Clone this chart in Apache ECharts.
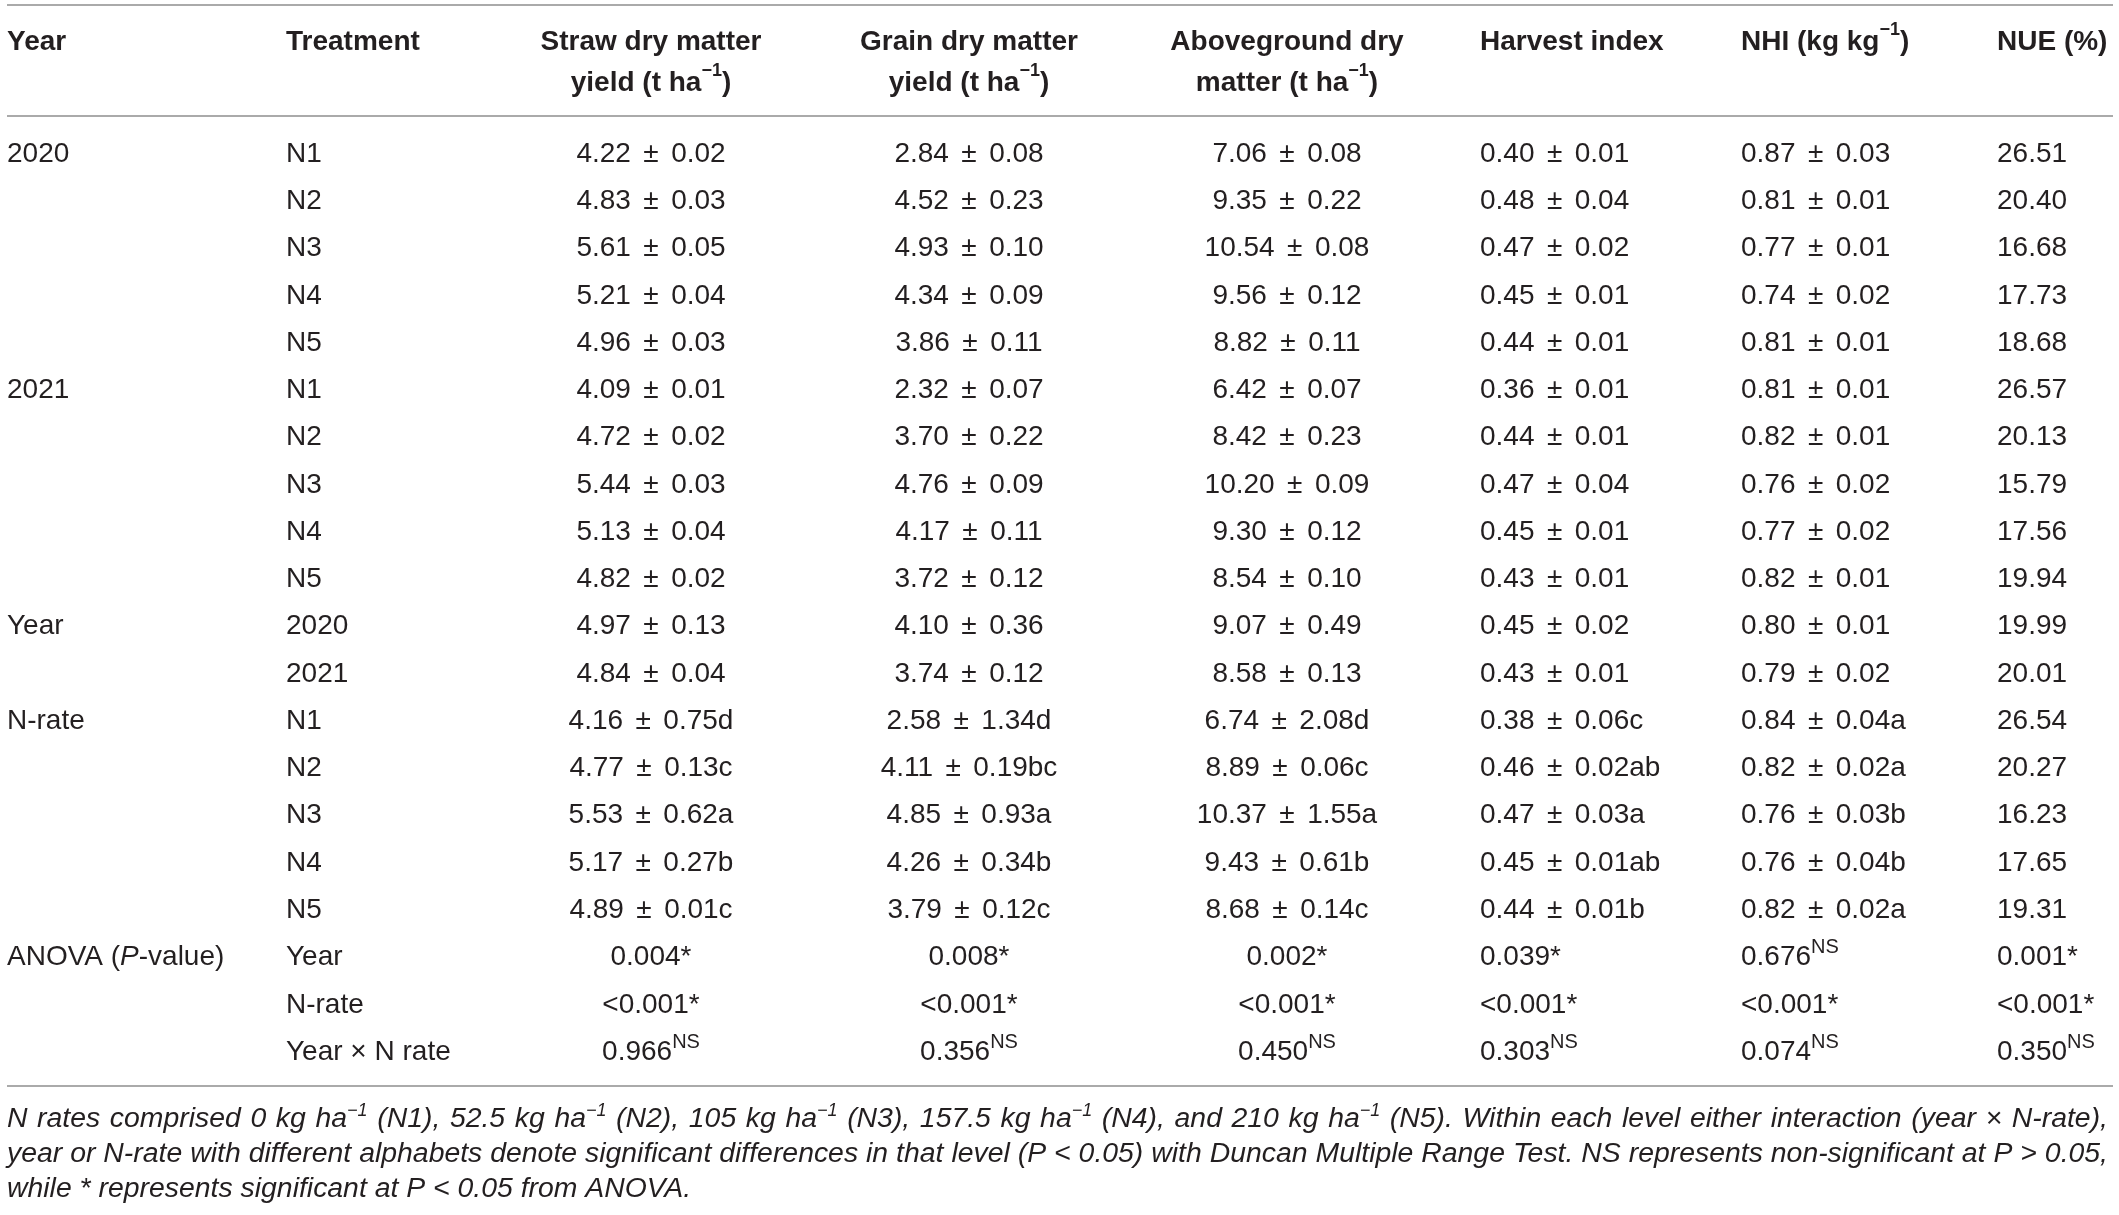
<!DOCTYPE html>
<html>
<head>
<meta charset="utf-8">
<script src="https://cdn.jsdelivr.net/npm/echarts@6/dist/echarts.min.js"></script>
<style>
    html, body { margin: 0; padding: 0; background: #fff; }
    #chart { width: 2119px; height: 1215px; }
</style>
</head>
<body>
<div id="chart"></div>
<script>
// Table content, one array per column (rich tags: {ns|..} superscript, {it|..} italic)
const groupCol = ['2020', '', '', '', '', '2021', '', '', '', '', 'Year', '', 'N-rate', '', '', '', '',
    'ANOVA ({it|P}-value)', '', ''];
const treatmentCol = ['N1', 'N2', 'N3', 'N4', 'N5', 'N1', 'N2', 'N3', 'N4', 'N5', '2020', '2021',
    'N1', 'N2', 'N3', 'N4', 'N5', 'Year', 'N-rate', 'Year × N rate'];
const strawDM = ['4.22 ± 0.02', '4.83 ± 0.03', '5.61 ± 0.05', '5.21 ± 0.04', '4.96 ± 0.03',
    '4.09 ± 0.01', '4.72 ± 0.02', '5.44 ± 0.03', '5.13 ± 0.04', '4.82 ± 0.02',
    '4.97 ± 0.13', '4.84 ± 0.04',
    '4.16 ± 0.75d', '4.77 ± 0.13c', '5.53 ± 0.62a', '5.17 ± 0.27b', '4.89 ± 0.01c',
    '0.004*', '<0.001*', '0.966{ns|NS}'];
const grainDM = ['2.84 ± 0.08', '4.52 ± 0.23', '4.93 ± 0.10', '4.34 ± 0.09', '3.86 ± 0.11',
    '2.32 ± 0.07', '3.70 ± 0.22', '4.76 ± 0.09', '4.17 ± 0.11', '3.72 ± 0.12',
    '4.10 ± 0.36', '3.74 ± 0.12',
    '2.58 ± 1.34d', '4.11 ± 0.19bc', '4.85 ± 0.93a', '4.26 ± 0.34b', '3.79 ± 0.12c',
    '0.008*', '<0.001*', '0.356{ns|NS}'];
const abovegroundDM = ['7.06 ± 0.08', '9.35 ± 0.22', '10.54 ± 0.08', '9.56 ± 0.12', '8.82 ± 0.11',
    '6.42 ± 0.07', '8.42 ± 0.23', '10.20 ± 0.09', '9.30 ± 0.12', '8.54 ± 0.10',
    '9.07 ± 0.49', '8.58 ± 0.13',
    '6.74 ± 2.08d', '8.89 ± 0.06c', '10.37 ± 1.55a', '9.43 ± 0.61b', '8.68 ± 0.14c',
    '0.002*', '<0.001*', '0.450{ns|NS}'];
const harvestIndex = ['0.40 ± 0.01', '0.48 ± 0.04', '0.47 ± 0.02', '0.45 ± 0.01', '0.44 ± 0.01',
    '0.36 ± 0.01', '0.44 ± 0.01', '0.47 ± 0.04', '0.45 ± 0.01', '0.43 ± 0.01',
    '0.45 ± 0.02', '0.43 ± 0.01',
    '0.38 ± 0.06c', '0.46 ± 0.02ab', '0.47 ± 0.03a', '0.45 ± 0.01ab', '0.44 ± 0.01b',
    '0.039*', '<0.001*', '0.303{ns|NS}'];
const nhi = ['0.87 ± 0.03', '0.81 ± 0.01', '0.77 ± 0.01', '0.74 ± 0.02', '0.81 ± 0.01',
    '0.81 ± 0.01', '0.82 ± 0.01', '0.76 ± 0.02', '0.77 ± 0.02', '0.82 ± 0.01',
    '0.80 ± 0.01', '0.79 ± 0.02',
    '0.84 ± 0.04a', '0.82 ± 0.02a', '0.76 ± 0.03b', '0.76 ± 0.04b', '0.82 ± 0.02a',
    '0.676{ns|NS}', '<0.001*', '0.074{ns|NS}'];
const nue = ['26.51', '20.40', '16.68', '17.73', '18.68',
    '26.57', '20.13', '15.79', '17.56', '19.94',
    '19.99', '20.01',
    '26.54', '20.27', '16.23', '17.65', '19.31',
    '0.001*', '<0.001*', '0.350{ns|NS}'];

const headers = ['Year', 'Treatment', 'Straw dry matter\nyield (t ha{sup|−1})', 'Grain dry matter\nyield (t ha{sup|−1})',
    'Aboveground dry\nmatter (t ha{sup|−1})', 'Harvest index', 'NHI (kg kg{sup|−1})', 'NUE (%)'];
const footnote = [
    'N rates comprised 0 kg ha{sup|−1} (N1), 52.5 kg ha{sup|−1} (N2), 105 kg ha{sup|−1} (N3), 157.5 kg ha{sup|−1} (N4), and 210 kg ha{sup|−1} (N5). Within each level either interaction (year × N-rate),',
    'year or N-rate with different alphabets denote significant differences in that level (P < 0.05) with Duncan Multiple Range Test. NS represents non-significant at P > 0.05,',
    'while * represents significant at P < 0.05 from ANOVA.'
];

const columns = [groupCol, treatmentCol, strawDM, grainDM, abovegroundDM, harvestIndex, nhi, nue];
const rowIds = treatmentCol.map((t, i) => 'r' + i);

// Layout
const INK = '#231f20';
const RULE = '#8e8e8e';
const FONT = '"Liberation Sans", Arial, sans-serif';
const BODY_SIZE = 28;
const FOOT_SIZE = 28.4;
const FOOT_SUP = 18;
const TEXT_LEFT = 7, TEXT_RIGHT = 2108;
const colX = [7, 286, 651, 969, 1287, 1480, 1741, 1997];
const colAlign = ['left', 'left', 'center', 'center', 'center', 'left', 'left', 'left'];

// the typeset table puts a little more room round the ± sign
function spacedPlusMinus(s) {
    return s.replace(' ± ', ' \u2006±\u2006 ');
}

// measure a footnote line (plain runs + {sup|..} runs) so the first lines can be justified
const measureCtx = document.createElement('canvas').getContext('2d');
function measureLine(line) {
    let w = 0;
    line.split(/(\{sup\|[^}]*\})/).forEach(part => {
        if (!part) return;
        const m = part.match(/^\{sup\|([^}]*)\}$/);
        measureCtx.font = 'italic ' + (m ? FOOT_SUP : FOOT_SIZE) + 'px "Liberation Sans"';
        w += measureCtx.measureText(m ? m[1] : part).width;
    });
    return w;
}

const bodyRich = {
    ns: { fontFamily: FONT, fontSize: 20, lineHeight: 19, verticalAlign: 'top', fill: INK },
    it: { fontFamily: FONT, fontStyle: 'italic', fontSize: BODY_SIZE, lineHeight: 40, fill: INK }
};
const headRich = {
    sup: { fontFamily: FONT, fontWeight: 'bold', fontSize: 18, lineHeight: 24, verticalAlign: 'top', fill: INK }
};

const chart = echarts.init(document.getElementById('chart'));

const graphics = [];
// rules
[5, 116, 1086].forEach(y => {
    graphics.push({
        type: 'line', shape: { x1: 7, y1: y, x2: 2113, y2: y },
        style: { stroke: RULE, lineWidth: 1.6 }, silent: true
    });
});
// header cells
headers.forEach((h, c) => {
    const twoLines = h.indexOf('\n') >= 0;
    graphics.push({
        type: 'text', x: colX[c], y: twoLines ? 62.5 : 42,
        style: {
            text: h, align: colAlign[c], verticalAlign: 'middle',
            fontFamily: FONT, fontWeight: 'bold', fontSize: BODY_SIZE, lineHeight: 41,
            fill: INK, rich: headRich
        }
    });
});
// footnote, justified except for the last line
measureCtx.font = 'italic ' + FOOT_SIZE + 'px "Liberation Sans"';
const spaceW = measureCtx.measureText(' ').width;
footnote.forEach((line, i) => {
    const rich = {
        sup: { fontFamily: FONT, fontStyle: 'italic', fontSize: FOOT_SUP, lineHeight: 22, verticalAlign: 'top', fill: INK }
    };
    let text = line;
    if (i < footnote.length - 1) {
        const gaps = line.split(' ').length - 1;
        const extra = (TEXT_RIGHT - TEXT_LEFT - measureLine(line)) / gaps;
        if (extra > 0) {
            rich.sp = { fontFamily: FONT, fontStyle: 'italic', fontSize: FOOT_SIZE, lineHeight: 34, width: spaceW + extra };
            text = line.replace(/ /g, '{sp| }');
        }
    }
    graphics.push({
        type: 'text', x: TEXT_LEFT, y: 1119 + i * 35,
        style: {
            text: text, align: 'left', verticalAlign: 'middle',
            fontFamily: FONT, fontStyle: 'italic', fontSize: FOOT_SIZE, lineHeight: 34,
            fill: INK, rich: rich
        }
    });
});

const option = {
    backgroundColor: '#ffffff',
    animation: false,
    grid: { left: 0, right: 0, top: 130.4, bottom: 139.3 },
    xAxis: { type: 'value', min: 0, max: 2119, show: false },
    yAxis: { type: 'category', data: rowIds, inverse: true, show: false },
    graphic: graphics,
    series: [{
        type: 'custom',
        encode: { x: 0, y: 1 },
        data: rowIds.map((id, i) => [0, i]),
        renderItem: function (params, api) {
            const r = params.dataIndex;
            const children = columns.map((col, c) => {
                const p = api.coord([colX[c], r]);
                return {
                    type: 'text', x: p[0], y: p[1],
                    style: {
                        text: spacedPlusMinus(col[r]), align: colAlign[c], verticalAlign: 'middle',
                        fontFamily: FONT, fontSize: BODY_SIZE, lineHeight: 40,
                        fill: INK, rich: bodyRich
                    }
                };
            });
            return { type: 'group', children: children };
        }
    }]
};

chart.setOption(option);
</script>
</body>
</html>
